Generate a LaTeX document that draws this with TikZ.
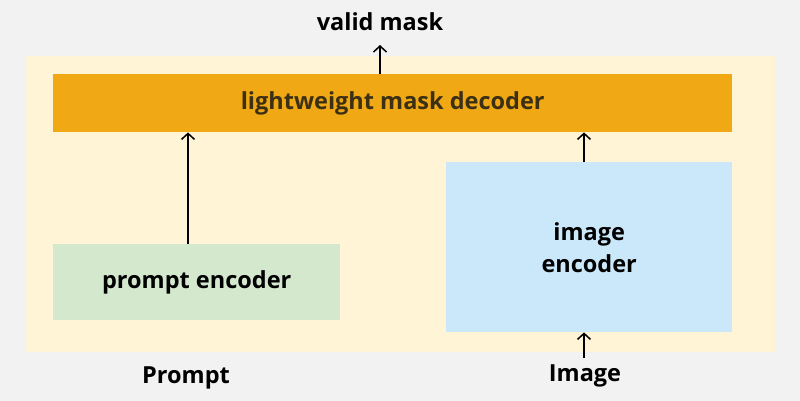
\documentclass[tikz,border=0pt]{standalone}
\usepackage{fontspec}
\setmainfont{Open Sans}
\usetikzlibrary{positioning, arrows.meta}
\definecolor{pagegrey}{HTML}{F2F2F2}
\definecolor{frameyellow}{HTML}{FFF4D6}
\definecolor{decoderorange}{HTML}{F0A814}
\definecolor{decodertext}{HTML}{3B3013}
\definecolor{promptgreen}{HTML}{D3E8CC}
\definecolor{imageblue}{HTML}{CBE8FB}

\begin{document}
\begin{tikzpicture}[x=1pt, y=-1pt, >={Straight Barb[length=6pt, width=13pt]},
    font=\fontsize{23.5}{32}\selectfont\bfseries,
    block/.style={rectangle, inner sep=0pt, anchor=north west, align=center}]
    \fill[pagegrey] (0,0) rectangle (800,401);
    \useasboundingbox (0,0) rectangle (800,401);
    \node[block, fill=frameyellow, minimum width=750pt, minimum height=296pt] (frame) at (25,56) {};
    \node[block, fill=decoderorange, text=decodertext, minimum width=679pt, minimum height=58pt] (decoder) at (53,74) {lightweight mask decoder};
    \node[block, fill=promptgreen, minimum width=287pt, minimum height=76pt] (promptenc) at (53,244) {prompt encoder};
    \node[block, fill=imageblue, minimum width=286pt, minimum height=170pt] (imageenc) at (446,162) {image\\encoder};
    \node (validmask) at (380,22) {valid mask};
    \node (prompt) at (186,378) {Prompt};
    \node (image) at (585,376) {Image};
    \coordinate (maskout) at (380,45);
    \coordinate (imagein) at (584,358);
    \path[->, line width=1.5pt]
      (decoder.north -| maskout) edge node {} (maskout)
      (promptenc.north -| 188,0) edge node {} (decoder.south -| 188,0)
      (imageenc.north -| imagein) edge node {} (decoder.south -| imagein)
      (imagein) edge node {} (imageenc.south -| imagein);
  \end{tikzpicture}
\end{document}
